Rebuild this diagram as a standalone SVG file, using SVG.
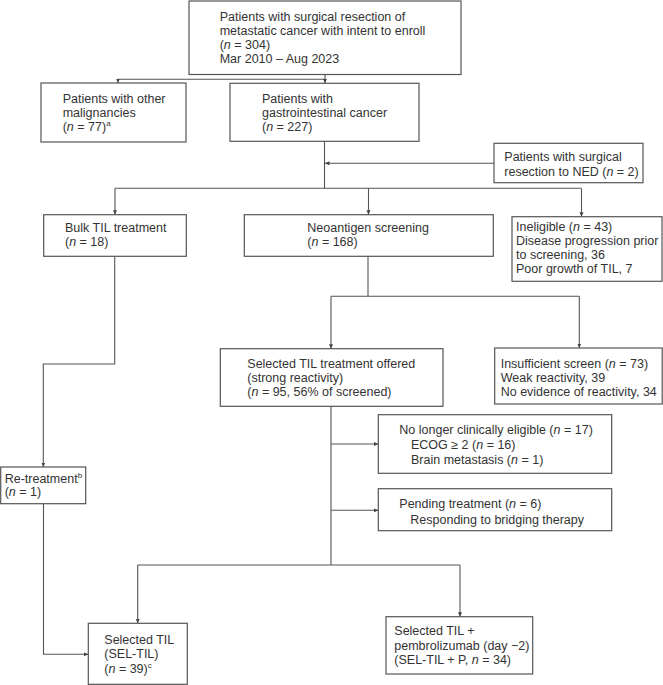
<svg xmlns="http://www.w3.org/2000/svg" width="663" height="685" viewBox="0 0 663 685">
<style>
.box{fill:#fff;stroke:#555;stroke-width:1.2}
.t{font-family:"Liberation Sans",Arial,sans-serif;font-size:12.5px;fill:#333}
.c{fill:none;stroke:#555;stroke-width:1.1}
.i{font-style:italic}
.sup{font-size:8px}
</style>
<defs>
<marker id="ah" markerWidth="6" markerHeight="6" refX="4.5" refY="3" orient="auto" markerUnits="userSpaceOnUse">
<path d="M0,1 L4.5,3 L0,5 z" fill="#444"/>
</marker>
</defs>
<rect width="663" height="685" fill="#fff"/>
<g id="connectors">
<path class="c" d="M325,74.5 V79.3 M118,79.3 H325"/>
<path class="c" d="M118,79.3 V83" marker-end="url(#ah)"/>
<path class="c" d="M325,79.3 V83.3" marker-end="url(#ah)"/>
<path class="c" d="M324.5,141.3 V188.3"/>
<path class="c" d="M494,163.3 H325" marker-end="url(#ah)"/>
<path class="c" d="M115,188.3 H581.5"/>
<path class="c" d="M115,188.3 V214.7" marker-end="url(#ah)"/>
<path class="c" d="M368.5,188.3 V214.7" marker-end="url(#ah)"/>
<path class="c" d="M581.5,188.3 V216.7" marker-end="url(#ah)"/>
<path class="c" d="M368,256.3 V296.3 M331,296.3 H579.3"/>
<path class="c" d="M331,296.3 V348.7" marker-end="url(#ah)"/>
<path class="c" d="M579.3,296.3 V348" marker-end="url(#ah)"/>
<path class="c" d="M331,406.3 V565 M137.7,565 H460"/>
<path class="c" d="M331,444 H378.3" marker-end="url(#ah)"/>
<path class="c" d="M331,510.3 H378.3" marker-end="url(#ah)"/>
<path class="c" d="M137.7,565 V623.3" marker-end="url(#ah)"/>
<path class="c" d="M460,565 V616.7" marker-end="url(#ah)"/>
<path class="c" d="M114.7,256.3 V364 H43.3 V467" marker-end="url(#ah)"/>
<path class="c" d="M43.5,503.7 V654.3 H88.3" marker-end="url(#ah)"/>
</g>
<g id="n-top">
<rect class="box" x="189" y="1" width="272" height="73.5"/>
<text class="t" x="219.7" y="20.5">Patients with surgical resection of</text>
<text class="t" x="219.7" y="34.5">metastatic cancer with intent to enroll</text>
<text class="t" x="219.7" y="48.5">(<tspan class="i">n</tspan> = 304)</text>
<text class="t" x="219.7" y="62.5">Mar 2010 – Aug 2023</text>
</g>
<g id="n-other">
<rect class="box" x="41" y="83" width="145" height="59"/>
<text class="t" x="62.7" y="103">Patients with other</text>
<text class="t" x="62.7" y="117">malignancies</text>
<text class="t" x="62.7" y="131">(<tspan class="i">n</tspan> = 77)<tspan class="sup" dy="-5">a</tspan></text>
</g>
<g id="n-gi">
<rect class="box" x="230" y="83.3" width="189" height="58"/>
<text class="t" x="262" y="103">Patients with</text>
<text class="t" x="262" y="117">gastrointestinal cancer</text>
<text class="t" x="262" y="131">(<tspan class="i">n</tspan> = 227)</text>
</g>
<g id="n-ned">
<rect class="box" x="494" y="143.3" width="149" height="39.4"/>
<text class="t" x="504.3" y="161">Patients with surgical</text>
<text class="t" x="504.3" y="175.5">resection to NED (<tspan class="i">n</tspan> = 2)</text>
</g>
<g id="n-bulk">
<rect class="box" x="43.7" y="214.7" width="142.6" height="41.6"/>
<text class="t" x="65" y="232">Bulk TIL treatment</text>
<text class="t" x="65" y="246.3">(<tspan class="i">n</tspan> = 18)</text>
</g>
<g id="n-neo">
<rect class="box" x="244.3" y="214.7" width="249" height="41.6"/>
<text class="t" x="307.3" y="232">Neoantigen screening</text>
<text class="t" x="307.3" y="246.3">(<tspan class="i">n</tspan> = 168)</text>
</g>
<g id="n-inelig">
<rect class="box" x="512" y="216.7" width="150" height="64.6"/>
<text class="t" x="516" y="231">Ineligible (<tspan class="i">n</tspan> = 43)</text>
<text class="t" x="516" y="245">Disease progression prior</text>
<text class="t" x="516" y="259">to screening, 36</text>
<text class="t" x="516" y="273">Poor growth of TIL, 7</text>
</g>
<g id="n-sel">
<rect class="box" x="220.3" y="348.7" width="222.7" height="57.6"/>
<text class="t" x="247.3" y="367.5">Selected TIL treatment offered</text>
<text class="t" x="247.3" y="381.5">(strong reactivity)</text>
<text class="t" x="247.3" y="395.5">(<tspan class="i">n</tspan> = 95, 56% of screened)</text>
</g>
<g id="n-insuff">
<rect class="box" x="494.7" y="348" width="167.5" height="56"/>
<text class="t" x="500.7" y="367.5">Insufficient screen (<tspan class="i">n</tspan> = 73)</text>
<text class="t" x="500.7" y="381.5">Weak reactivity, 39</text>
<text class="t" x="500.7" y="395.5">No evidence of reactivity, 34</text>
</g>
<g id="n-nolonger">
<rect class="box" x="378.3" y="414.7" width="233.4" height="58.6"/>
<text class="t" x="399.3" y="433.5">No longer clinically eligible (<tspan class="i">n</tspan> = 17)</text>
<text class="t" x="411" y="448.5">ECOG ≥ 2 (<tspan class="i">n</tspan> = 16)</text>
<text class="t" x="411" y="463.5">Brain metastasis (<tspan class="i">n</tspan> = 1)</text>
</g>
<g id="n-pending">
<rect class="box" x="378.3" y="488.7" width="233.4" height="42"/>
<text class="t" x="399.3" y="508.3">Pending treatment (<tspan class="i">n</tspan> = 6)</text>
<text class="t" x="410.3" y="523.5">Responding to bridging therapy</text>
</g>
<g id="n-retreat">
<rect class="box" x="0.7" y="467" width="85" height="36.7"/>
<text class="t" x="4.7" y="482.5">Re-treatment<tspan class="sup" dy="-5">b</tspan></text>
<text class="t" x="4.7" y="496">(<tspan class="i">n</tspan> = 1)</text>
</g>
<g id="n-seltil">
<rect class="box" x="88.3" y="623.3" width="99" height="61"/>
<text class="t" x="104.3" y="643.5">Selected TIL</text>
<text class="t" x="104.3" y="658">(SEL-TIL)</text>
<text class="t" x="104.3" y="672.5">(<tspan class="i">n</tspan> = 39)<tspan class="sup" dy="-5">c</tspan></text>
</g>
<g id="n-seltilp">
<rect class="box" x="386" y="616.7" width="146.7" height="57.3"/>
<text class="t" x="394.3" y="635">Selected TIL +</text>
<text class="t" x="394.3" y="649.5">pembrolizumab (day −2)</text>
<text class="t" x="394.3" y="663.5">(SEL-TIL + P, <tspan class="i">n</tspan> = 34)</text>
</g>
</svg>
